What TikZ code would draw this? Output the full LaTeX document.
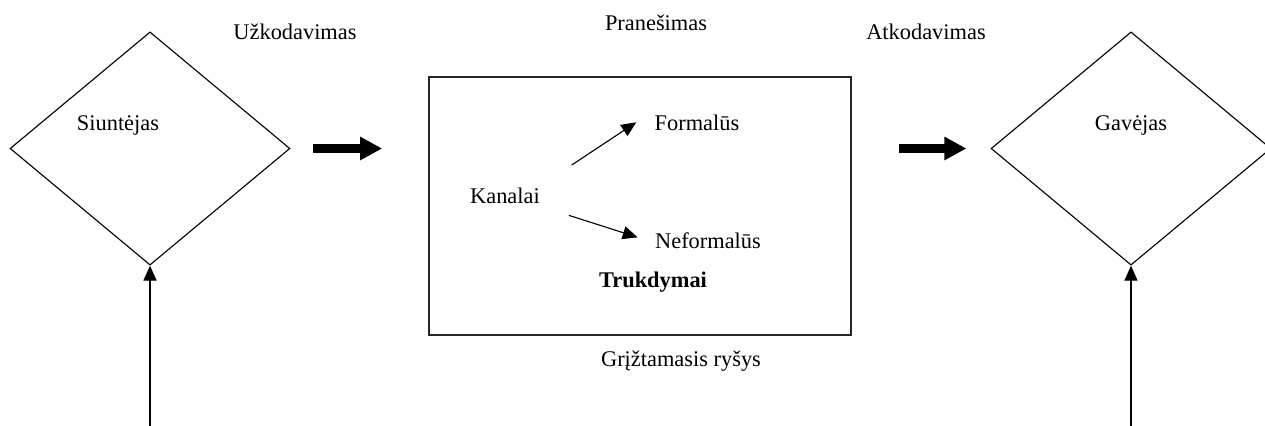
\documentclass[tikz,border=0pt]{standalone}
\usepackage{fontspec}
\setmainfont{Liberation Serif}
\usepackage{tikz}
\usetikzlibrary{positioning,arrows.meta,shapes.geometric}
\tikzset{
  party/.style ={diamond, draw=black, line width=0.6pt, inner sep=0pt,
                 minimum width=150pt, minimum height=125pt},
  chanbox/.style={rectangle, draw=black!85, line width=1pt, inner sep=0pt,
                 minimum width=226pt, minimum height=138pt},
  lbl/.style   ={font=\fontsize{12}{14}\selectfont, inner sep=3pt},
  bigarr/.style={-{Triangle[length=11.8pt, width=11.8pt]}, line width=4.3pt},
  arr/.style   ={-{Triangle[length=8pt, width=7pt]}, line width=0.6pt},
}
\begin{document}
\begin{tikzpicture}[x=0.536pt, y=-0.536pt]
  \clip (0,0) rectangle (1265,426);
  % senders, receivers and the channel
  \node[party] (snd) at (150,148.5) {};
  \node[party] (rcv) at (1131,148.5) {};
  \node[chanbox] (chan) at (640,206) {};
  % labels
  \node[lbl] (enc)  at (295,32)  {Užkodavimas};
  \node[lbl] (msg)  at (656,23)  {Pranešimas};
  \node[lbl] (dec)  at (926,32)  {Atkodavimas};
  \node[lbl] (sndl) at (118,125) {Siuntėjas};
  \node[lbl] (rcvl) at (1131,125) {Gavėjas};
  \node[lbl] (kan)  at (505,196) {Kanalai};
  \node[lbl] (form) at (697,123) {Formalūs};
  \node[lbl] (nfrm) at (708,241) {Neformalūs};
  \node[lbl, font=\fontsize{12}{14}\selectfont\bfseries] (noise) at (653,282) {Trukdymai};
  \node[lbl] (fb)   at (681,361) {Grįžtamasis ryšys};
  % flow
  \draw[bigarr, shorten <=12.3pt, shorten >=24.7pt] (snd.east) -- (snd.east -| chan.west);
  \draw[bigarr, shorten <=25.2pt, shorten >=12.9pt] (chan.east |- rcv.west) -- (rcv.west);
  \draw[arr, shorten <=16.6pt, shorten >=8pt] (kan.north east) -- ([yshift=4.8pt]form.west);
  \draw[arr, shorten <=13pt, shorten >=6.5pt] ([yshift=1pt]kan.south east) -- (nfrm.west);
  % feedback lines from below
  \coordinate (fbl) at (150,430);
  \coordinate (fbr) at (1131,430);
  \draw[arr] (fbl) -- (snd.south);
  \draw[arr] (fbr) -- (rcv.south);
\end{tikzpicture}
\end{document}
